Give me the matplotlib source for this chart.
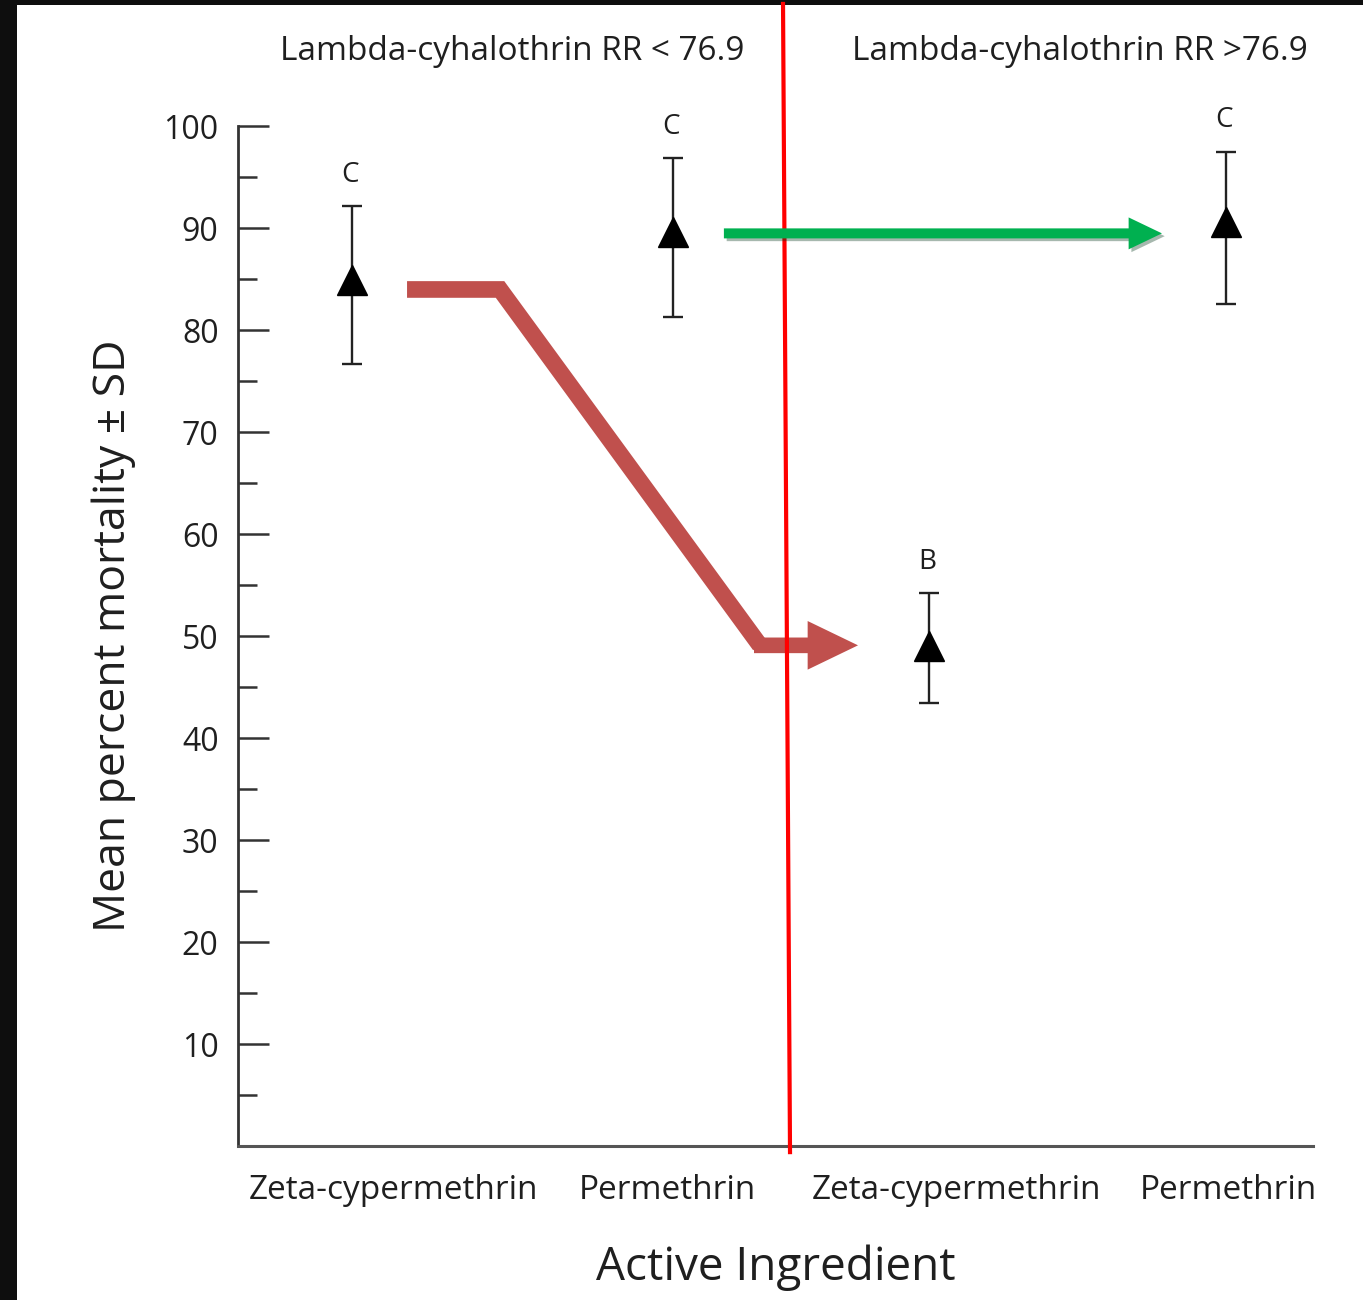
import matplotlib
matplotlib.use("Agg")
import matplotlib.pyplot as plt
import matplotlib.patheffects as pe
from matplotlib.patches import Rectangle

# Datos del gráfico
categories = ["Zeta-cypermethrin", "Permethrin", "Zeta-cypermethrin", "Permethrin"]
means = [84.9, 89.6, 49.0, 90.6]
sd_low = [8.2, 8.3, 5.6, 8.0]
sd_high = [7.3, 7.3, 5.2, 6.9]
letters = ["C", "C", "B", "C"]
groups = ["Lambda-cyhalothrin RR < 76.9", "Lambda-cyhalothrin RR >76.9"]
y_ticks = [10, 20, 30, 40, 50, 60, 70, 80, 90, 100]

# Posiciones en el eje x
point_x = [0.424, 1.619, 2.571, 3.676]
label_x = [0.58, 1.596, 2.672, 3.684]

plt.rcParams['font.family'] = ['Open Sans', 'DejaVu Sans']
txt = '#1f1f1f'

fig = plt.figure(figsize=(13.63, 13.0), dpi=100)
fig.patch.set_facecolor('#0e0e0e')
fig.patches.append(Rectangle((17 / 1363, 0), 1, 1 - 5 / 1300, transform=fig.transFigure,
                             facecolor='white', edgecolor='none', zorder=-10))
ax = fig.add_axes([238 / 1363, 1 - 1146 / 1300, 1075 / 1363, 1036 / 1300])
ax.set_facecolor('none')

# Puntos con barras de error
ax.errorbar(point_x, means, yerr=[sd_low, sd_high], fmt='^', color='black',
            ecolor='#222222', elinewidth=1.7, capsize=7, capthick=1.7,
            markersize=22, zorder=5)
for x, m, h, l in zip(point_x, means, sd_high, letters):
    ax.text(x - 0.006, m + h + 1.7, l, ha='center', va='bottom', fontsize=20, color=txt)

# Ejes
ax.set_xlim(0, 4)
ax.set_ylim(0, 101.6)
for s in ['top', 'right']:
    ax.spines[s].set_visible(False)
ax.spines['left'].set_linewidth(2)
ax.spines['bottom'].set_linewidth(2.2)
ax.spines['left'].set_color('#333333')
ax.spines['bottom'].set_color('#555555')
ax.spines['left'].set_bounds(0, 100)

ax.set_yticks(y_ticks)
ax.set_yticks([5, 15, 25, 35, 45, 55, 65, 75, 85, 95], minor=True)
ax.tick_params(axis='y', which='major', direction='in', length=22, width=1.8,
               labelsize=23, pad=14, colors='#333333', labelcolor=txt)
ax.tick_params(axis='y', which='minor', direction='in', length=14, width=1.8,
               colors='#333333')
ax.set_xticks(label_x)
ax.set_xticklabels(categories)
ax.tick_params(axis='x', length=0, labelsize=24, pad=20, labelcolor=txt)

ax.set_ylabel('Mean percent mortality ± SD', fontsize=32, color=txt)
ax.yaxis.set_label_coords(-0.095, 0.493)
ax.set_xlabel('Active Ingredient', fontsize=33, color=txt)
ax.xaxis.set_label_coords(0.5, -0.095)

ax.text(0.255, 1.056, groups[0], transform=ax.transAxes, ha='center', va='center',
        fontsize=24, color=txt)
ax.text(0.783, 1.056, groups[1], transform=ax.transAxes, ha='center', va='center',
        fontsize=24, color=txt)

# Línea roja divisoria
ax.plot([2.028, 2.054], [112.0, -0.6], color='#ff0000', lw=3, clip_on=False, zorder=6)

# Flecha verde: Permethrin se mantiene
ax.annotate('', xy=(3.438, 89.5), xytext=(1.808, 89.5),
            arrowprops=dict(arrowstyle='simple,head_length=1.2,head_width=1.15,tail_width=0.36',
                            mutation_scale=20, color='#00b050', lw=0, shrinkA=0, shrinkB=0,
                            path_effects=[pe.SimplePatchShadow(offset=(2, -2), alpha=0.35),
                                          pe.Normal()]),
            zorder=7)

# Flecha roja: Zeta-cypermethrin baja
red = '#c0504d'
ax.plot([0.629, 0.975, 1.942], [84.0, 84.0, 49.1],
        color=red, lw=12, solid_joinstyle='miter', solid_capstyle='butt', zorder=4)
ax.annotate('', xy=(2.307, 49.1), xytext=(1.92, 49.1),
            arrowprops=dict(arrowstyle='simple,head_length=1.45,head_width=1.4,tail_width=0.45',
                            mutation_scale=25, color=red, lw=0, shrinkA=0, shrinkB=0),
            zorder=4)

fig.savefig('out.png', dpi=100, facecolor=fig.get_facecolor())
